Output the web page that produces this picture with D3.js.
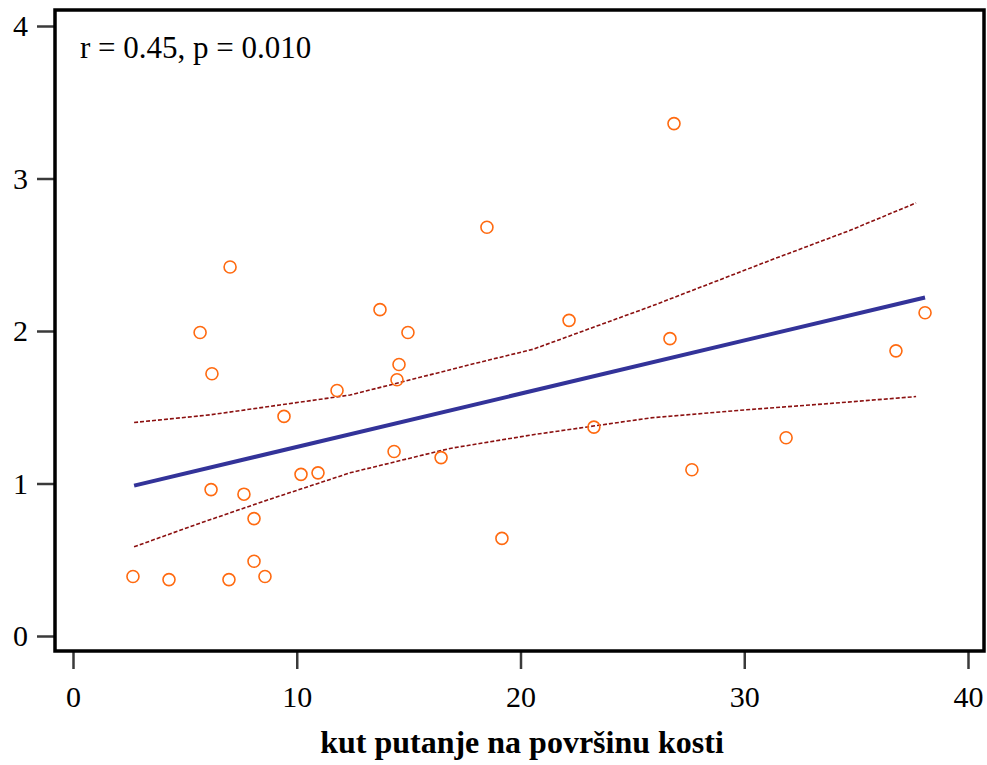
<!DOCTYPE html>
<html>
<head>
<meta charset="utf-8">
<script src="https://cdn.jsdelivr.net/npm/d3@7/dist/d3.min.js"></script>
<style>
  html, body { margin: 0; padding: 0; background: #fff; }
  svg { display: block; }
</style>
</head>
<body>
<svg id="chart" width="987" height="765"></svg>
<script>
// ---- data ----
const pointX = [2.68, 4.29, 6.97, 8.58, 8.09, 8.09, 7.64, 6.17, 5.68, 6.21, 7.02,
                9.43, 10.19, 10.95, 11.80, 13.72, 14.35, 14.48, 14.57, 14.97, 16.45,
                18.50, 19.17, 22.17, 23.28, 26.68, 26.86, 27.66, 31.87, 36.78, 38.08];
const pointY = [0.39, 0.37, 0.37, 0.39, 0.49, 0.77, 0.93, 0.96, 1.99, 1.72, 2.42,
                1.44, 1.06, 1.07, 1.61, 2.14, 1.21, 1.68, 1.78, 1.99, 1.17,
                2.68, 0.64, 2.07, 1.37, 1.95, 3.36, 1.09, 1.30, 1.87, 2.12];

const fitX = [2.73, 38.08];
const fitY = [0.986, 2.22];

const upperX = [2.73, 6.12, 9.25, 12.38, 18.04, 20.56, 23.55, 25.8, 31.28, 34.73, 37.68];
const upperY = [1.40, 1.45, 1.515, 1.58, 1.79, 1.88, 2.04, 2.16, 2.47, 2.66, 2.84];

const lowerX = [2.73, 5.68, 8.66, 12.38, 16.85, 20.56, 25.8, 29.8, 34.3, 37.68];
const lowerY = [0.585, 0.74, 0.89, 1.07, 1.23, 1.32, 1.43, 1.48, 1.53, 1.57];

const xTicks = [0, 10, 20, 30, 40];
const yTicks = [0, 1, 2, 3, 4];
const xLabel = "kut putanje na površinu kosti";
const annotation = "r = 0.45, p = 0.010";

// ---- drawing ----
const FONT = "'Liberation Serif', 'Times New Roman', Tinos, 'DejaVu Serif', serif";
const svg = d3.select("#chart");
const x = d3.scaleLinear().domain([0, 40]).range([73, 968]);
const y = d3.scaleLinear().domain([0, 4]).range([636, 26]);

const frame = { left: 55, top: 10, right: 984, bottom: 651 };

// axes
const xAxis = d3.axisBottom(x).tickValues(xTicks).tickSize(18).tickPadding(17).tickFormat(d3.format("d"));
const gx = svg.append("g").attr("transform", `translate(0,${frame.bottom})`).call(xAxis);
gx.attr("font-family", null).attr("font-size", null);
gx.select(".domain").remove();
gx.selectAll(".tick line").attr("stroke", "#3a3a3a").attr("stroke-width", 2.5);
gx.selectAll(".tick text").style("font-size", "30px").style("font-family", FONT).attr("fill", "#000");

const yAxis = d3.axisLeft(y).tickValues(yTicks).tickSize(18).tickPadding(9).tickFormat(d3.format("d"));
const gy = svg.append("g").attr("transform", `translate(${frame.left},0)`).call(yAxis);
gy.attr("font-family", null).attr("font-size", null);
gy.select(".domain").remove();
gy.selectAll(".tick line").attr("stroke", "#3a3a3a").attr("stroke-width", 2.5);
gy.selectAll(".tick text").style("font-size", "30px").style("font-family", FONT).attr("fill", "#000");

// confidence bands
const line = d3.line().x(d => x(d[0])).y(d => y(d[1]));
svg.append("path")
  .datum(upperX.map((v, i) => [v, upperY[i]]))
  .attr("d", line).attr("fill", "none")
  .attr("stroke", "#8b1010").attr("stroke-width", 1.6).attr("stroke-dasharray", "4,2");
svg.append("path")
  .datum(lowerX.map((v, i) => [v, lowerY[i]]))
  .attr("d", line).attr("fill", "none")
  .attr("stroke", "#8b1010").attr("stroke-width", 1.6).attr("stroke-dasharray", "4,2");

// regression line
svg.append("path")
  .datum(fitX.map((v, i) => [v, fitY[i]]))
  .attr("d", line).attr("fill", "none")
  .attr("stroke", "#333399").attr("stroke-width", 4);

// points
svg.append("g").selectAll("circle")
  .data(pointX.map((v, i) => [v, pointY[i]]))
  .join("circle")
  .attr("cx", d => x(d[0])).attr("cy", d => y(d[1])).attr("r", 6)
  .attr("fill", "none").attr("stroke", "#ff6a10").attr("stroke-width", 1.6);

// frame
svg.append("rect")
  .attr("x", frame.left).attr("y", frame.top)
  .attr("width", frame.right - frame.left).attr("height", frame.bottom - frame.top)
  .attr("fill", "none").attr("stroke", "#000").attr("stroke-width", 3.5);

// annotation
svg.append("text").attr("x", 80).attr("y", 58)
  .style("font-family", FONT).style("font-size", "31px").text(annotation);

// x label
svg.append("text").attr("x", 522).attr("y", 753)
  .attr("text-anchor", "middle")
  .style("font-family", FONT).style("font-size", "32px").style("font-weight", "bold")
  .text(xLabel);
</script>
</body>
</html>
